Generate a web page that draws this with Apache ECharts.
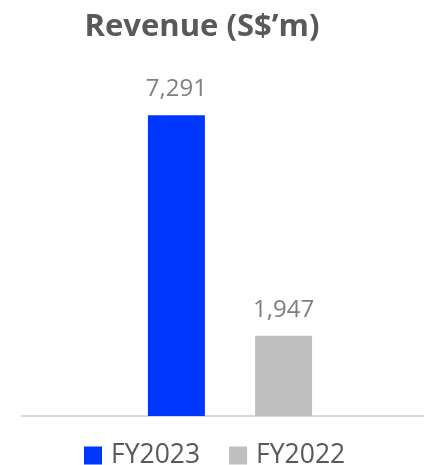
<!DOCTYPE html>
<html><head><meta charset="utf-8">
<script src="https://cdn.jsdelivr.net/npm/echarts@6/dist/echarts.min.js"></script>
<style>html,body{margin:0;padding:0;background:#fff}#c{width:424px;height:465px}</style>
</head><body><div id="c"></div>
<script>
const categories = ['Revenue'];
const seriesNames = ['FY2023', 'FY2022'];
const fy2023 = [7291];
const fy2022 = [1947];
const colors = ['#0037FF', '#BFBFBF'];

const chart = echarts.init(document.getElementById('c'), null, {renderer: 'canvas'});
const font = '"Open Sans", sans-serif';
const label = {
  show: true, position: 'top', distance: 14,
  color: '#7F7F7F', fontSize: 24, fontFamily: font,
  formatter: p => p.value.toLocaleString('en-US')
};
chart.setOption({
  animation: false,
  title: {
    text: 'Revenue (S$\u2019m)', left: 197, top: 7, textAlign: 'center',
    textStyle: {fontFamily: font, fontWeight: 'bold', fontSize: 31, color: '#595959'}
  },
  legend: {
    data: seriesNames, left: 79, top: 437, itemWidth: 18, itemHeight: 18, itemGap: 29,
    icon: 'rect',
    textStyle: {fontFamily: font, fontSize: 26.5, color: '#595959', padding: [0,0,0,4]}
  },
  grid: [
    {left: 22, right: 0, top: 86, bottom: 49},
    {left: 36, right: 0, top: 86, bottom: 49}
  ],
  xAxis: [
    {type: 'category', gridIndex: 0, data: categories,
     axisLine: {lineStyle: {color: '#D9D9D9', width: 2}},
     axisTick: {show: false}, axisLabel: {show: false}},
    {type: 'category', gridIndex: 1, data: categories,
     axisLine: {show: false}, axisTick: {show: false}, axisLabel: {show: false}}
  ],
  yAxis: [
    {type: 'value', gridIndex: 0, min: 0, max: 8000, show: false, splitLine: {show: false}},
    {type: 'value', gridIndex: 1, min: 0, max: 8000, show: false, splitLine: {show: false}}
  ],
  series: [
    {name: seriesNames[0], type: 'bar', xAxisIndex: 1, yAxisIndex: 1, data: fy2023,
     barWidth: 57, barGap: '88%', itemStyle: {color: colors[0]}, label: label},
    {name: seriesNames[1], type: 'bar', xAxisIndex: 1, yAxisIndex: 1, data: fy2022,
     barWidth: 57, itemStyle: {color: colors[1]}, label: label}
  ]
});
</script></body></html>
